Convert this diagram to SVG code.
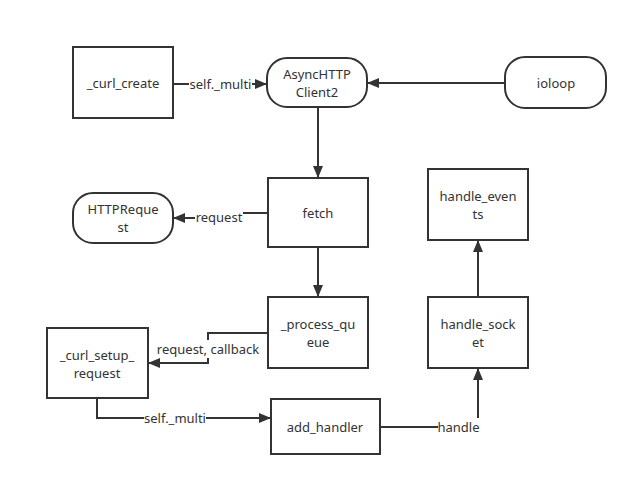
<svg xmlns="http://www.w3.org/2000/svg" width="638" height="487" viewBox="0 0 638 487">
<style>
.box{fill:#fff;stroke:#333;stroke-width:2}
.t{font-family:"Noto Sans","Open Sans",sans-serif;font-size:13px;fill:#333;text-anchor:middle;dominant-baseline:central}
.c{fill:none;stroke:#333;stroke-width:2}
.lb{fill:#fff}
</style>
<defs>
<marker id="ah" markerUnits="userSpaceOnUse" markerWidth="12" markerHeight="10" refX="11" refY="5" orient="auto">
<path d="M0,0 L12,5 L0,10 Z" fill="#333"/>
</marker>
</defs>
<rect width="638" height="487" fill="#fff"/>
<g id="connectors">
<path class="c" d="M173,84 H266" marker-end="url(#ah)"/>
<path class="c" d="M505,83 H368" marker-end="url(#ah)"/>
<path class="c" d="M318,107 V177" marker-end="url(#ah)"/>
<path class="c" d="M268,213 H220 V218 H174" marker-end="url(#ah)"/>
<path class="c" d="M318,247 V296" marker-end="url(#ah)"/>
<path class="c" d="M268,333 H208 V363 H149" marker-end="url(#ah)"/>
<path class="c" d="M97,398 V418 H270" marker-end="url(#ah)"/>
<path class="c" d="M380,427 H478 V369" marker-end="url(#ah)"/>
<path class="c" d="M478,297 V241" marker-end="url(#ah)"/>
<rect class="lb" x="189" y="75" width="63" height="18"/>
<text class="t" x="220.5" y="84">self._multi</text>
<rect class="lb" x="195" y="208" width="48" height="18"/>
<text class="t" x="219" y="217">request</text>
<rect class="lb" x="156" y="340" width="104" height="18"/>
<text class="t" x="208" y="349">request, callback</text>
<rect class="lb" x="144" y="409" width="62" height="18"/>
<text class="t" x="175" y="418">self._multi</text>
<rect class="lb" x="438" y="418" width="41" height="18"/>
<text class="t" x="458.5" y="427">handle</text>
</g>
<g id="curl_create">
<rect class="box" x="73" y="47" width="100" height="71"/>
<text class="t" x="123" y="83">_curl_create</text>
</g>
<g id="async_client">
<rect class="box" x="267" y="58" width="100" height="49" rx="20" ry="20"/>
<text class="t" x="317" y="74">AsyncHTTP</text>
<text class="t" x="317" y="92">Client2</text>
</g>
<g id="ioloop">
<rect class="box" x="505" y="57" width="101" height="51" rx="20" ry="20"/>
<text class="t" x="556" y="83">ioloop</text>
</g>
<g id="fetch">
<rect class="box" x="268" y="178" width="100" height="69"/>
<text class="t" x="318" y="213">fetch</text>
</g>
<g id="httprequest">
<rect class="box" x="73" y="193" width="100" height="50" rx="20" ry="20"/>
<text class="t" x="123" y="209">HTTPReque</text>
<text class="t" x="123" y="227">st</text>
</g>
<g id="process_queue">
<rect class="box" x="268" y="297" width="100" height="71"/>
<text class="t" x="318" y="324">_process_qu</text>
<text class="t" x="318" y="342">eue</text>
</g>
<g id="curl_setup_request">
<rect class="box" x="47" y="328" width="101" height="70"/>
<text class="t" x="97" y="355">_curl_setup_</text>
<text class="t" x="97" y="373">request</text>
</g>
<g id="add_handler">
<rect class="box" x="271" y="399" width="109" height="55"/>
<text class="t" x="325" y="427">add_handler</text>
</g>
<g id="handle_socket">
<rect class="box" x="428" y="297" width="100" height="71"/>
<text class="t" x="478" y="324">handle_sock</text>
<text class="t" x="478" y="342">et</text>
</g>
<g id="handle_events">
<rect class="box" x="428" y="169" width="100" height="71"/>
<text class="t" x="478" y="196">handle_even</text>
<text class="t" x="478" y="214">ts</text>
</g>
</svg>
